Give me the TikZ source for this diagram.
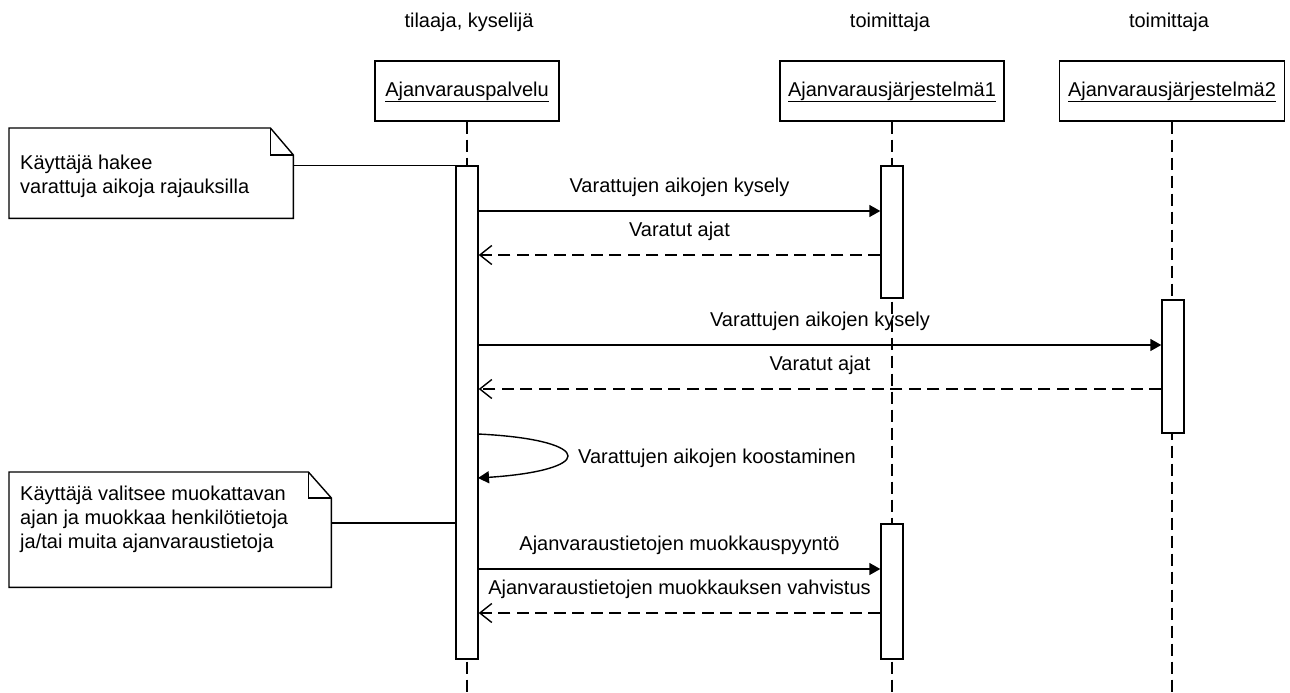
\documentclass[tikz,border=0pt]{standalone}
\usepackage{fontspec}
\setmainfont{Liberation Sans}
\usetikzlibrary{arrows.meta}

\begin{document}
\begin{tikzpicture}[x=1pt,y=-1pt,
  txt/.style={font=\fontsize{20}{24}\selectfont, inner sep=0pt},
  obj/.style={txt, draw, line width=1.4pt, minimum height=60pt,
    text height=14pt, text depth=4pt},
  act/.style={draw, fill=white, line width=1.4pt, minimum width=22pt, inner sep=0pt},
  life/.style={line width=2pt, dash pattern=on 12pt off 6pt},
  outline/.style={line width=1.4pt},
  notebox/.style={inner sep=0pt, anchor=north west},
  notetext/.style={txt, align=left, anchor=north west},
  call/.style={line width=1.4pt, -{Triangle[length=11pt,width=12pt]}},
  reply/.style={line width=1.4pt, dash pattern=on 12pt off 6.5pt,
    -{Straight Barb[length=12pt,width=19pt,line width=1.4pt]}},
  msglabel/.style={txt, anchor=base, yshift=19pt},
]
% canvas
\fill[white] (0,0) rectangle (1290,693);
\useasboundingbox (0,0) rectangle (1290,693);
\coordinate (bottom) at (0,693);

% roles
\node[txt, anchor=base] (r1) at (469,28) {tilaaja, kyselijä};
\node[txt, anchor=base] (r2) at (890,28) {toimittaja};
\node[txt, anchor=base] (r3) at (1169,28) {toimittaja};

% participants
\node[obj, minimum width=184pt] (o1) at (467,91) {\underline{Ajanvarauspalvelu}};
\node[obj, minimum width=224pt] (o2) at (892,91) {\underline{Ajanvarausjärjestelmä1}};
\node[obj, minimum width=225pt] (o3) at (1172,91) {\underline{Ajanvarausjärjestelmä2}};

% lifelines
\draw[life] (o1.south) -- (o1.south |- bottom);
\draw[life] (o2.south) -- (o2.south |- bottom);
\draw[life] (o3.south) -- (o3.south |- bottom);

% activations
\node[act, minimum height=493pt] (act1) at (467,412.5) {};
\node[act, minimum height=132pt] (act2a) at (892,232) {};
\node[act, minimum height=133pt] (act3) at (1173,366.5) {};
\node[act, minimum height=135pt] (act2b) at (892,591.5) {};

% message levels
\coordinate (m1) at (0,211);
\coordinate (m2) at (0,255);
\coordinate (m3) at (0,345);
\coordinate (m4) at (0,389);
\coordinate (m5) at (0,569);
\coordinate (m6) at (0,613);
\coordinate (n2) at (0,523);

% messages
\draw[call] (act1.east |- m1) -- (act2a.west |- m1)
  node[msglabel, midway] {Varattujen aikojen kysely};
\draw[reply] (act2a.west |- m2) -- (act1.east |- m2)
  node[msglabel, midway] {Varatut ajat};
\draw[call] (act1.east |- m3) -- (act3.west |- m3)
  node[msglabel, midway] {Varattujen aikojen kysely};
\draw[reply] (act3.west |- m4) -- (act1.east |- m4)
  node[msglabel, midway] {Varatut ajat};

% self call
\coordinate (s1) at (478,434);
\coordinate (s2) at (478,478);
\draw[call] (s1) .. controls (540,437) and (568,447) .. (568,456)
  .. controls (568,465) and (540,474) .. (s2);
\node[txt, anchor=base west] (slbl) at (578,463) {Varattujen aikojen koostaminen};

\draw[call] (act1.east |- m5) -- (act2b.west |- m5)
  node[msglabel, midway] {Ajanvaraustietojen muokkauspyyntö};
\draw[reply] (act2b.west |- m6) -- (act1.east |- m6)
  node[msglabel, midway] {Ajanvaraustietojen muokkauksen vahvistus};

% note 1
\node[notebox, minimum width=284pt, minimum height=90pt] (note1) at (9,128) {};
\draw[outline] (note1.north west) -- ([xshift=-23pt]note1.north east)
  -- ([yshift=-27pt]note1.north east) -- (note1.south east)
  -- (note1.south west) -- cycle;
\draw[outline] ([xshift=-23pt]note1.north east) |- ([yshift=-27pt]note1.north east);
\node[notetext] (t1) at (20,154.5) {Käyttäjä hakee\\varattuja aikoja rajauksilla};
\draw[outline] (note1.east |- act1.north) -- (act1.north west);

% note 2
\node[notebox, minimum width=322pt, minimum height=115pt] (note2) at (9,472) {};
\draw[outline] (note2.north west) -- ([xshift=-23pt]note2.north east)
  -- ([yshift=-26pt]note2.north east) -- (note2.south east)
  -- (note2.south west) -- cycle;
\draw[outline] ([xshift=-23pt]note2.north east) |- ([yshift=-26pt]note2.north east);
\node[notetext] (t2) at (20,485.5) {Käyttäjä valitsee muokattavan\\ajan ja muokkaa henkilötietoja\\ja/tai muita ajanvaraustietoja};
\draw[outline] (note2.east |- n2) -- (act1.west |- n2);
\end{tikzpicture}
\end{document}
